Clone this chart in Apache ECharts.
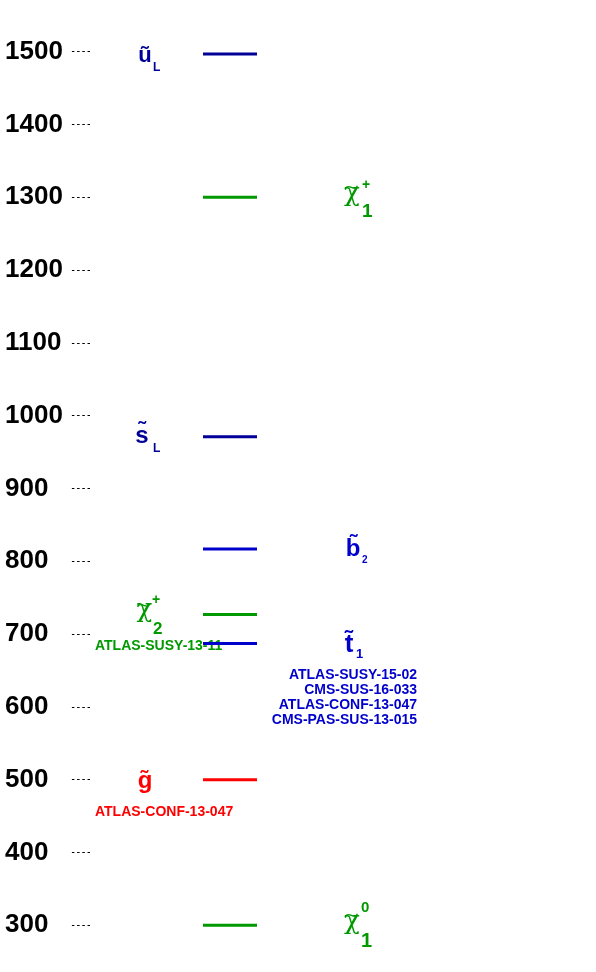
<!DOCTYPE html>
<html>
<head>
<meta charset="utf-8">
<script src="https://cdn.jsdelivr.net/npm/echarts@6/dist/echarts.min.js"></script>
<style>html,body{margin:0;padding:0;background:#fff;}#c{width:596px;height:972px;}</style>
</head>
<body>
<div id="c"></div>
<script>
// ---- data ----
// base letters of the superpartners (every one carries a tilde)
const particles    = ['u', '\u03C7', 's', 'b', '\u03C7', 't', 'g', '\u03C7'];
const subscripts   = ['L', '1', 'L', '2', '2', '1', '', '1'];
const superscripts = ['', '+', '', '', '+', '', '', '0'];
const masses       = [1497, 1300, 971, 817, 727, 687, 500, 300];
const references   = [
  [], [], [], [],
  ['ATLAS-SUSY-13-11'],
  ['ATLAS-SUSY-15-02', 'CMS-SUS-16-033', 'ATLAS-CONF-13-047', 'CMS-PAS-SUS-13-015'],
  ['ATLAS-CONF-13-047'],
  []
];

// ---- styles (per particle) ----
const NAVY = '#000099', BLUE = '#0000cc', GREEN = '#009900', RED = '#ff0000';
const SANS = '"Liberation Sans", Arial, sans-serif';
const CHI_FONT = '26px "DejaVu Serif", "Liberation Serif", serif';
const styles = [
  {color: NAVY,  side: 'L', mx: 145, mdy: 2.3,  mfont: 'bold 22px ' + SANS, subx: 153, subdy: 13.6, subfont: 'bold 12px ' + SANS},
  {color: GREEN, side: 'R', mx: 352, mdy: -3,   mfont: CHI_FONT, chi: true, tx: 345, tdy: -10,
   subx: 362, subdy: 14.1, subfont: 'bold 19px ' + SANS, supx: 362, supdy: -12, supfont: 'bold 14px ' + SANS},
  {color: NAVY,  side: 'L', mx: 142, mdy: -0.4, mfont: 'bold 24px ' + SANS, subx: 153, subdy: 12.3, subfont: 'bold 12px ' + SANS},
  {color: BLUE,  side: 'R', mx: 353, mdy: 0.7,  mfont: 'bold 24px ' + SANS, subx: 362, subdy: 11.5, subfont: 'bold 10px ' + SANS},
  {color: GREEN, side: 'L', mx: 144.5, mdy: -4, mfont: CHI_FONT, chi: true, tx: 137.5, tdy: -9,
   subx: 153, subdy: 15.1, subfont: 'bold 17px ' + SANS, supx: 152, supdy: -14, supfont: 'bold 14px ' + SANS},
  {color: BLUE,  side: 'R', mx: 349, mdy: 1,    mfont: 'bold 26px ' + SANS, subx: 356, subdy: 10.5, subfont: 'bold 13px ' + SANS},
  {color: RED,   side: 'L', mx: 145, mdy: 1.6,  mfont: 'bold 24px ' + SANS},
  {color: GREEN, side: 'R', mx: 352, mdy: -3,   mfont: CHI_FONT, chi: true, tx: 345, tdy: -10,
   subx: 361, subdy: 15.7, subfont: 'bold 20px ' + SANS, supx: 361, supdy: -17.5, supfont: 'bold 15px ' + SANS}
];
const LINE_X1 = 203, LINE_X2 = 257;
const REF_LEFT_X = 95, REF_RIGHT_X = 417, REF_DY = 32, REF_STEP = 15;
const REF_FONT = 'bold 14px ' + SANS;
const AXIS_X = 90, LABEL_X = 5;

const chart = echarts.init(document.getElementById('c'), null, {renderer: 'canvas'});

function renderItem(params, api) {
  const i = params.dataIndex;
  const st = styles[i];
  const y = api.coord([0, api.value(1)])[1];
  const children = [];
  references[i].forEach(function (r, k) {
    children.push({
      type: 'text',
      style: {
        text: r, x: st.side === 'L' ? REF_LEFT_X : REF_RIGHT_X, y: y + REF_DY + REF_STEP * k,
        font: REF_FONT, fill: st.color, align: st.side === 'L' ? 'left' : 'right', verticalAlign: 'middle'
      }
    });
  });
  children.push({
    type: 'text',
    style: {text: st.chi ? particles[i] : particles[i] + '\u0303', x: st.mx, y: y + st.mdy,
            font: st.mfont, fill: st.color, align: 'center', verticalAlign: 'middle'}
  });
  if (st.chi) {
    const ty = y + st.tdy;
    children.push({
      type: 'bezierCurve',
      shape: {x1: st.tx, y1: ty + 1.5, cpx1: st.tx + 4, cpy1: ty - 5, cpx2: st.tx + 8.5, cpy2: ty + 5, x2: st.tx + 12.5, y2: ty - 1.5},
      style: {stroke: st.color, lineWidth: 1.4, fill: null}
    });
  }
  if (subscripts[i]) {
    children.push({
      type: 'text',
      style: {text: subscripts[i], x: st.subx, y: y + st.subdy, font: st.subfont, fill: st.color, align: 'left', verticalAlign: 'middle'}
    });
  }
  if (superscripts[i]) {
    children.push({
      type: 'text',
      style: {text: superscripts[i], x: st.supx, y: y + st.supdy, font: st.supfont, fill: st.color, align: 'left', verticalAlign: 'middle'}
    });
  }
  children.push({
    type: 'line',
    shape: {x1: LINE_X1, y1: y, x2: LINE_X2, y2: y},
    style: {stroke: st.color, lineWidth: 3}
  });
  return {type: 'group', children: children};
}

chart.setOption({
  backgroundColor: '#ffffff',
  animation: false,
  grid: {left: AXIS_X, right: 0, top: 51.7, bottom: 46.7, containLabel: false, outerBoundsMode: 'none'},
  xAxis: {type: 'value', min: 0, max: 1, show: false},
  yAxis: {
    type: 'value', min: 300, max: 1500, interval: 100,
    axisLine: {show: false},
    axisTick: {show: true, length: 19, lineStyle: {color: '#000', width: 1, type: [2.5, 2.7]}},
    splitLine: {show: false},
    axisLabel: {margin: AXIS_X - LABEL_X, align: 'left', color: '#000', fontSize: 26, fontWeight: 'bold', fontFamily: SANS,
                padding: [4, 0, 0, 0], formatter: function (v) { return String(v); }}
  },
  series: [{
    type: 'custom',
    renderItem: renderItem,
    encode: {x: 0, y: 1},
    data: masses.map(function (m) { return [0, m]; }),
    clip: false
  }]
});
</script>
</body>
</html>
